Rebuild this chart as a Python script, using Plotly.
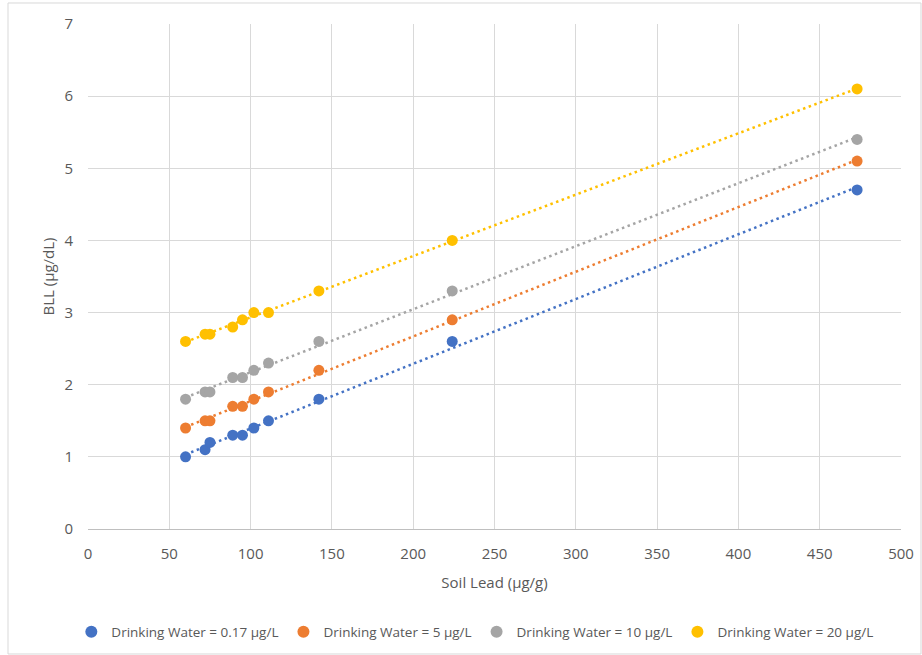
import numpy as np
import plotly.graph_objects as go

soil_lead = [60, 72, 75, 89, 95, 102, 111, 142, 224, 473]
series_names = [
    "Drinking Water = 0.17 µg/L",
    "Drinking Water = 5 µg/L",
    "Drinking Water = 10 µg/L",
    "Drinking Water = 20 µg/L",
]
bll_017 = [1.0, 1.1, 1.2, 1.3, 1.3, 1.4, 1.5, 1.8, 2.6, 4.7]
bll_5 = [1.4, 1.5, 1.5, 1.7, 1.7, 1.8, 1.9, 2.2, 2.9, 5.1]
bll_10 = [1.8, 1.9, 1.9, 2.1, 2.1, 2.2, 2.3, 2.6, 3.3, 5.4]
bll_20 = [2.6, 2.7, 2.7, 2.8, 2.9, 3.0, 3.0, 3.3, 4.0, 6.1]
series_values = [bll_017, bll_5, bll_10, bll_20]
colors = ["#4472C4", "#ED7D31", "#A5A5A5", "#FFC000"]

FONT = "Open Sans"
TXT = "#595959"
fig = go.Figure()

for name, vals, col in zip(series_names, series_values, colors):
    x = np.array(soil_lead, dtype=float)
    y = np.array(vals, dtype=float)
    slope, intercept = np.polyfit(x, y, 1)
    xs = np.array([x.min(), x.max()])
    fig.add_trace(go.Scatter(
        x=xs, y=slope * xs + intercept, mode="lines",
        line=dict(color=col, width=2.5, dash="2.5px,3.5px"),
        showlegend=False, hoverinfo="skip"))

for name, vals, col in zip(series_names, series_values, colors):
    fig.add_trace(go.Scatter(
        x=soil_lead, y=vals, mode="markers", name=name,
        marker=dict(color=col, size=11)))

fig.update_layout(
    width=922, height=655,
    margin=dict(l=88, r=21, t=24, b=126, autoexpand=False),
    paper_bgcolor="white", plot_bgcolor="white",
    font=dict(family=FONT, size=15, color=TXT),
    showlegend=True,
    legend=dict(orientation="h", xref="container", yref="container",
                x=0.515, xanchor="center", y=0.035, yanchor="middle",
                font=dict(size=13.5, color=TXT), itemwidth=30,
                tracegroupgap=0, itemsizing="constant"),
    xaxis=dict(range=[0, 500], dtick=50, tick0=0,
               showgrid=True, gridcolor="#D9D9D9", gridwidth=1,
               zeroline=False, showline=True, linecolor="#BFBFBF", linewidth=1,
               ticks="", ticklabelstandoff=11, tickfont=dict(size=15, color=TXT),
               title=dict(text="Soil Lead (µg/g)", font=dict(size=15, color=TXT), standoff=15)),
    yaxis=dict(range=[0, 7], dtick=1, tick0=0,
               showgrid=True, gridcolor="#D9D9D9", gridwidth=1,
               zeroline=False, showline=False,
               ticks="", ticklabelstandoff=14, tickfont=dict(size=15, color=TXT),
               title=dict(text="BLL (µg/dL)", font=dict(size=15, color=TXT), standoff=6)),
    shapes=[dict(type="rect", xref="paper", yref="paper",
                 x0=-0.0984, x1=1.0246, y0=-0.2475, y1=1.0416,
                 line=dict(color="#D9D9D9", width=1), fillcolor="rgba(0,0,0,0)", layer="below")],
)

fig.write_html("out.html")
